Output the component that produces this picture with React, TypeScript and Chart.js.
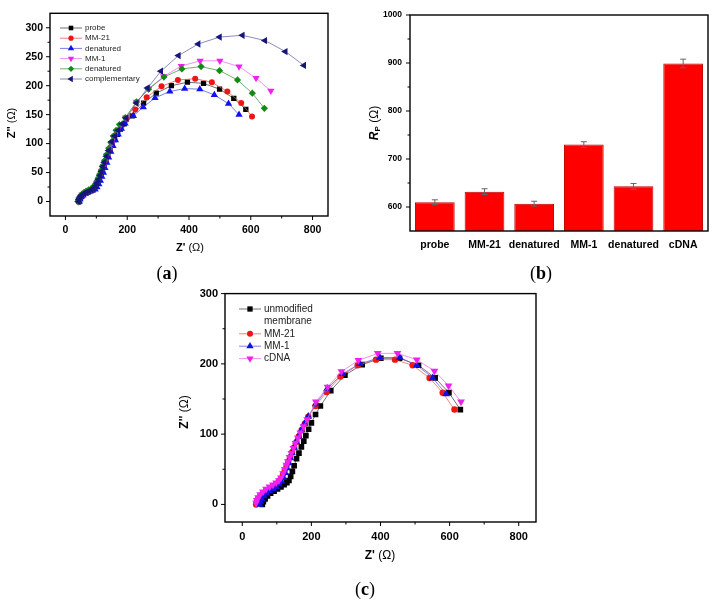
import { useEffect, useRef } from 'react';
import { Chart, registerables } from 'chart.js';
import { drawPoint } from 'chart.js/helpers';

Chart.register(...registerables);

const SANS = '"Liberation Sans", Arial, sans-serif';
const SERIF = '"Liberation Serif", "Times New Roman", serif';

type Pt = [number, number];

// ---- panel (a): Nyquist plots, Z' vs Z''
const aProbe: Pt[] = [[44,0],[46,4],[50,8],[56,11],[63,14],[71,16],[79,18],[87,20],[94,23],[100,27],[105,32],[110,38],[115,45],[120,52],[125,60],[131,69],[137,78],[144,88],[151,98],[159,107],[168,116],[178,125],[190,134],[216,148],[253,170],[294,187],[343,200],[395,206],[447,204],[499,194],[545,178],[584,159]];
const aMM21: Pt[] = [[43,0],[45,4],[49,8],[55,11],[62,14],[70,16],[78,18],[86,20],[93,23],[99,27],[104,32],[109,38],[114,45],[119,52],[124,60],[130,69],[136,78],[143,88],[150,98],[158,108],[167,118],[180,130],[197,141],[226,159],[263,180],[311,199],[364,210],[420,212],[474,206],[524,190],[569,170],[604,147]];
const aDenatured1: Pt[] = [[45,0],[47,4],[51,8],[57,11],[64,14],[72,16],[80,18],[88,19],[96,21],[102,25],[108,30],[113,36],[118,43],[123,50],[128,58],[134,67],[140,76],[147,86],[154,96],[162,106],[171,116],[181,126],[193,135],[220,148],[252,163],[290,179],[338,190],[386,195],[435,194],[482,184],[528,169],[562,150]];
const aMM1: Pt[] = [[42,0],[44,4],[48,8],[54,12],[61,15],[69,17],[77,19],[85,21],[92,24],[98,28],[103,33],[108,39],[113,46],[118,53],[123,61],[129,70],[135,80],[142,90],[149,100],[157,111],[166,121],[177,131],[195,145],[230,172],[270,195],[318,216],[375,234],[436,243],[500,243],[562,233],[617,213],[665,191]];
const aDenatured2: Pt[] = [[41,0],[43,4],[47,8],[52,12],[59,15],[67,18],[75,20],[83,22],[90,25],[96,29],[101,34],[106,40],[111,47],[116,54],[121,62],[127,71],[133,81],[140,92],[147,102],[155,113],[164,123],[175,133],[194,145],[230,172],[269,194],[319,215],[377,229],[439,233],[499,226],[557,210],[605,187],[644,161]];
const aComplementary: Pt[] = [[42,0],[44,4],[48,8],[53,11],[60,14],[68,16],[76,18],[84,20],[91,23],[97,27],[102,32],[107,38],[112,45],[117,52],[121,60],[126,68],[133,78],[140,88],[150,103],[160,113],[171,123],[184,134],[197,144],[230,170],[266,196],[309,225],[366,252],[430,272],[499,284],[573,287],[646,278],[712,259],[772,235]];
const aXTicks = [0, 200, 400, 600, 800];
const aYTicks = [0, 50, 100, 150, 200, 250, 300];

// ---- panel (b): charge transfer resistance
const bCategories = ['probe', 'MM-21', 'denatured', 'MM-1', 'denatured', 'cDNA'];
const rpValues = [610, 632, 607, 730, 643, 899];
const rpErrors = [5, 6, 5, 6, 6, 9];
const bYTicks = [600, 700, 800, 900, 1000];

// ---- panel (c): Nyquist plots on unmodified membrane
const cUnmodified: Pt[] = [[58,0],[61,4],[66,8],[73,12],[82,16],[92,19],[102,22],[112,25],[121,28],[129,31],[135,34],[140,40],[145,47],[150,55],[157,65],[164,73],[171,82],[178,90],[184,98],[192,107],[200,116],[212,128],[226,140],[256,162],[297,184],[347,199],[401,208],[455,208],[510,198],[558,180],[598,159],[631,135]];
const cMM21: Pt[] = [[40,0],[42,4],[46,8],[52,12],[60,16],[69,20],[79,23],[89,26],[98,29],[106,33],[112,37],[118,43],[123,49],[128,55],[133,61],[138,67],[144,74],[150,81],[157,89],[164,97],[172,106],[181,115],[191,125],[212,140],[244,160],[284,182],[334,198],[387,206],[442,206],[493,198],[542,180],[580,159],[614,135]];
const cMM1: Pt[] = [[50,0],[52,4],[56,8],[62,12],[70,16],[79,19],[89,22],[98,25],[106,29],[113,33],[119,38],[124,45],[129,52],[134,59],[139,66],[144,73],[150,81],[156,89],[163,97],[171,106],[180,115],[191,125],[213,143],[246,165],[290,186],[340,200],[398,209],[456,209],[505,198],[551,180],[590,157]];
const cDNA: Pt[] = [[40,2],[42,6],[46,10],[52,14],[60,18],[69,22],[79,25],[89,28],[98,31],[106,34],[112,38],[118,44],[123,50],[128,56],[132,61],[137,67],[142,73],[148,80],[154,87],[161,95],[168,102],[177,111],[188,121],[213,146],[247,167],[287,189],[336,205],[392,215],[449,215],[505,206],[556,190],[597,169],[633,146]];
const cXTicks = [0, 200, 400, 600, 800];
const cYTicks = [0, 100, 200, 300];

interface Series {
  legend: string[];
  data: Pt[];
  color: string;
  line: string;
  style: string;
  rot: number;
}

const aSeries: Series[] = [
  { legend: ['probe'], data: aProbe, color: '#000000', line: 'rgba(60,60,60,0.75)', style: 'rect', rot: 0 },
  { legend: ['MM-21'], data: aMM21, color: '#f01515', line: 'rgba(235,80,80,0.75)', style: 'circle', rot: 0 },
  { legend: ['denatured'], data: aDenatured1, color: '#1010f0', line: 'rgba(80,80,220,0.75)', style: 'triangle', rot: 0 },
  { legend: ['MM-1'], data: aMM1, color: '#f020f0', line: 'rgba(235,110,235,0.75)', style: 'triangle', rot: 180 },
  { legend: ['denatured'], data: aDenatured2, color: '#148a14', line: 'rgba(60,150,60,0.75)', style: 'rectRot', rot: 0 },
  { legend: ['complementary'], data: aComplementary, color: '#15157a', line: 'rgba(100,100,170,0.75)', style: 'triangle', rot: 270 },
];

const cSeries: Series[] = [
  { legend: ['unmodified', 'membrane'], data: cUnmodified, color: '#000000', line: 'rgba(70,70,70,0.75)', style: 'rect', rot: 0 },
  { legend: ['MM-21'], data: cMM21, color: '#f01515', line: 'rgba(235,90,90,0.75)', style: 'circle', rot: 0 },
  { legend: ['MM-1'], data: cMM1, color: '#1010e0', line: 'rgba(100,90,220,0.75)', style: 'triangle', rot: 0 },
  { legend: ['cDNA'], data: cDNA, color: '#f020f0', line: 'rgba(235,110,235,0.75)', style: 'triangle', rot: 180 },
];

// marker radius per style so the shapes look equally big
function markerRadius(style: string, r: number) {
  if (style === 'rect') return r * 1.25;
  if (style === 'triangle') return r * 1.4;
  if (style === 'rectRot') return r * 1.2;
  return r;
}

interface TextPart { text: string; font: string; dy?: number }

function drawParts(ctx: CanvasRenderingContext2D, x: number, y: number, parts: TextPart[], rotate: boolean) {
  ctx.save();
  ctx.translate(x, y);
  if (rotate) ctx.rotate(-Math.PI / 2);
  let total = 0;
  parts.forEach(p => { ctx.font = p.font; total += ctx.measureText(p.text).width; });
  let cx = -total / 2;
  ctx.fillStyle = '#000';
  ctx.textBaseline = 'middle';
  ctx.textAlign = 'left';
  parts.forEach(p => {
    ctx.font = p.font;
    ctx.fillText(p.text, cx, p.dy || 0);
    cx += ctx.measureText(p.text).width;
  });
  ctx.restore();
}

interface DecorOpts {
  xTicks: number[] | null;
  yTicks: number[];
  xTitle?: { x: number; y: number; parts: TextPart[] };
  yTitle: { x: number; y: number; parts: TextPart[] };
  legend?: { series: Series[]; x: number; y: number; rowH: number; lineLen: number; font: string; r: number };
  errors?: boolean;
}

function decorPlugin(o: DecorOpts) {
  return {
    id: 'decor',
    afterDatasetsDraw(chart: any) {
      if (!o.errors) return;
      const ctx: CanvasRenderingContext2D = chart.ctx;
      const ys = chart.scales.y;
      const meta = chart.getDatasetMeta(0);
      ctx.save();
      ctx.strokeStyle = '#666';
      ctx.lineWidth = 1;
      meta.data.forEach((bar: any, i: number) => {
        const top = ys.getPixelForValue(rpValues[i] + rpErrors[i]);
        const bot = ys.getPixelForValue(rpValues[i] - rpErrors[i]);
        ctx.beginPath();
        ctx.moveTo(bar.x, top); ctx.lineTo(bar.x, bot);
        ctx.moveTo(bar.x - 3, top); ctx.lineTo(bar.x + 3, top);
        ctx.moveTo(bar.x - 3, bot); ctx.lineTo(bar.x + 3, bot);
        ctx.stroke();
      });
      ctx.restore();
    },
    afterDraw(chart: any) {
      const ctx: CanvasRenderingContext2D = chart.ctx;
      const a = chart.chartArea;
      const xs = chart.scales.x;
      const ys = chart.scales.y;
      ctx.save();
      ctx.strokeStyle = '#000';
      ctx.lineWidth = 1.4;
      ctx.strokeRect(a.left, a.top, a.right - a.left, a.bottom - a.top);
      ctx.lineWidth = 1;
      const seg = (x1: number, y1: number, x2: number, y2: number) => {
        ctx.beginPath(); ctx.moveTo(x1, y1); ctx.lineTo(x2, y2); ctx.stroke();
      };
      o.yTicks.forEach((v, i) => {
        const py = ys.getPixelForValue(v);
        seg(a.left - 4, py, a.left, py);
        if (i < o.yTicks.length - 1) {
          const pm = ys.getPixelForValue((v + o.yTicks[i + 1]) / 2);
          seg(a.left - 2.5, pm, a.left, pm);
        }
      });
      if (o.xTicks) {
        const xt = o.xTicks;
        xt.forEach((v, i) => {
          const px = xs.getPixelForValue(v);
          seg(px, a.bottom, px, a.bottom + 4);
          if (i < xt.length - 1) {
            const pm = xs.getPixelForValue((v + xt[i + 1]) / 2);
            seg(pm, a.bottom, pm, a.bottom + 2.5);
          }
        });
      }
      ctx.restore();
      drawParts(ctx, o.yTitle.x, o.yTitle.y, o.yTitle.parts, true);
      if (o.xTitle) drawParts(ctx, o.xTitle.x, o.xTitle.y, o.xTitle.parts, false);
      if (o.legend) {
        const L = o.legend;
        ctx.save();
        let row = 0;
        L.series.forEach(s => {
          const cy = L.y + row * L.rowH;
          ctx.strokeStyle = s.line;
          ctx.lineWidth = 1;
          ctx.beginPath(); ctx.moveTo(L.x, cy); ctx.lineTo(L.x + L.lineLen, cy); ctx.stroke();
          ctx.fillStyle = s.color;
          drawPoint(ctx, { pointStyle: s.style as any, radius: markerRadius(s.style, L.r), rotation: s.rot, borderWidth: 0 } as any, L.x + L.lineLen / 2, cy);
          ctx.fillStyle = '#222';
          ctx.font = L.font;
          ctx.textBaseline = 'middle';
          ctx.textAlign = 'left';
          s.legend.forEach((t, k) => ctx.fillText(t, L.x + L.lineLen + 3, cy + k * L.rowH));
          row += s.legend.length;
        });
        ctx.restore();
      }
    },
  };
}

function nyquistConfig(series: Series[], r: number, xMin: number, xMax: number, yMin: number, yMax: number,
  xTicks: number[], yTicks: number[], pad: any, yW: number, xH: number, tickSize: number, decor: DecorOpts): any {
  const tickFont = { family: SANS, size: tickSize, weight: 'bold' as const };
  return {
    type: 'scatter',
    data: {
      datasets: series.map((s, i) => ({
        label: s.legend.join(' '),
        data: s.data.map(([x, y]) => ({ x, y })),
        order: series.length - i, // later series drawn on top, as in the original
        showLine: true,
        borderColor: s.line,
        borderWidth: 1,
        backgroundColor: s.color,
        pointBackgroundColor: s.color,
        pointBorderColor: s.color,
        pointBorderWidth: 0,
        pointStyle: s.style,
        pointRotation: s.rot,
        pointRadius: markerRadius(s.style, r),
        tension: 0,
      })),
    },
    options: {
      responsive: false,
      animation: false,
      layout: { padding: pad },
      plugins: { legend: { display: false }, tooltip: { enabled: false } },
      scales: {
        x: {
          type: 'linear', min: xMin, max: xMax,
          afterBuildTicks: (s: any) => { s.ticks = xTicks.map(v => ({ value: v })); },
          afterFit: (s: any) => { s.height = xH; },
          grid: { display: false, drawTicks: false },
          border: { display: false },
          ticks: { font: tickFont, color: '#000', padding: 8, callback: (v: any) => String(v), maxRotation: 0 },
        },
        y: {
          type: 'linear', min: yMin, max: yMax,
          afterBuildTicks: (s: any) => { s.ticks = yTicks.map(v => ({ value: v })); },
          afterFit: (s: any) => { s.width = yW; },
          grid: { display: false, drawTicks: false },
          border: { display: false },
          ticks: { font: tickFont, color: '#000', padding: 7, callback: (v: any) => String(v) },
        },
      },
    },
    plugins: [decorPlugin(decor)],
  };
}

function barConfig(): any {
  return {
    type: 'bar',
    data: {
      labels: bCategories,
      datasets: [{
        data: rpValues,
        backgroundColor: '#ff0000',
        borderColor: '#c00000',
        borderWidth: 1,
        barPercentage: 0.8,
        categoryPercentage: 1,
      }],
    },
    options: {
      responsive: false,
      animation: false,
      layout: { padding: { top: 15, right: 8, left: 0, bottom: 0 } },
      plugins: { legend: { display: false }, tooltip: { enabled: false } },
      scales: {
        x: {
          afterFit: (s: any) => { s.height = 31; },
          grid: { display: false, drawTicks: false },
          border: { display: false },
          ticks: { font: { family: SANS, size: 10.5, weight: 'bold' }, color: '#000', padding: 8, maxRotation: 0, autoSkip: false },
        },
        y: {
          min: 550, max: 1000,
          afterBuildTicks: (s: any) => { s.ticks = bYTicks.map(v => ({ value: v })); },
          afterFit: (s: any) => { s.width = 50; },
          grid: { display: false, drawTicks: false },
          border: { display: false },
          ticks: { font: { family: SANS, size: 8.5, weight: 'bold' }, color: '#000', padding: 8, callback: (v: any) => String(v) },
        },
      },
    },
    plugins: [decorPlugin({
      xTicks: null,
      yTicks: bYTicks,
      errors: true,
      yTitle: {
        x: 15, y: 123, parts: [
          { text: 'R', font: `italic bold 12px ${SANS}` },
          { text: 'P', font: `bold 8px ${SANS}`, dy: 3 },
          { text: ' (\u03A9)', font: `12px ${SANS}` },
        ],
      },
    })],
  };
}

function ChartBox({ make, left, top, width, height }: { make: () => any; left: number; top: number; width: number; height: number }) {
  const ref = useRef<HTMLCanvasElement>(null);
  useEffect(() => {
    if (!ref.current) return;
    const chart = new Chart(ref.current, make());
    return () => chart.destroy();
  }, []);
  return (
    <canvas ref={ref} width={width} height={height}
      style={{ position: 'absolute', left, top, width, height }} />
  );
}

function PanelLabel({ letter, x, y }: { letter: string; x: number; y: number }) {
  return (
    <div style={{ position: 'absolute', left: x, top: y, transform: 'translate(-50%,-50%)', fontFamily: SERIF, fontSize: 18, color: '#000', whiteSpace: 'nowrap' }}>
      (<b>{letter}</b>)
    </div>
  );
}

const zTitleA: TextPart[] = [{ text: "Z'' ", font: `bold 11px ${SANS}` }, { text: '(\u03A9)', font: `11px ${SANS}` }];
const zxTitleA: TextPart[] = [{ text: "Z' ", font: `bold 11px ${SANS}` }, { text: '(\u03A9)', font: `11px ${SANS}` }];
const zTitleC: TextPart[] = [{ text: "Z'' ", font: `bold 12px ${SANS}` }, { text: '(\u03A9)', font: `12px ${SANS}` }];
const zxTitleC: TextPart[] = [{ text: "Z' ", font: `bold 12px ${SANS}` }, { text: '(\u03A9)', font: `12px ${SANS}` }];

export default function App() {
  const makeA = () => nyquistConfig(aSeries, 3, -50, 850, -25, 325, aXTicks, aYTicks,
    { top: 13, right: 17, left: 0, bottom: 0 }, 50, 46, 10.5, {
      xTicks: aXTicks, yTicks: aYTicks,
      yTitle: { x: 12, y: 123, parts: zTitleA },
      xTitle: { x: 190, y: 248, parts: zxTitleA },
      legend: { series: aSeries, x: 60, y: 28, rowH: 10.2, lineLen: 22, font: `8px ${SANS}`, r: 2.6 },
    });
  const makeC = () => nyquistConfig(cSeries, 3.2, -50, 850, -25, 300, cXTicks, cYTicks,
    { top: 13, right: 14, left: 0, bottom: 0 }, 50, 58, 11, {
      xTicks: cXTicks, yTicks: cYTicks,
      yTitle: { x: 10, y: 132, parts: zTitleC },
      xTitle: { x: 205, y: 276, parts: zxTitleC },
      legend: { series: cSeries, x: 64, y: 29, rowH: 12.4, lineLen: 22, font: `10px ${SANS}`, r: 3 },
    });
  return (
    <div style={{ position: 'fixed', left: 0, top: 0, width: 716, height: 605, background: '#fff', overflow: 'hidden' }}>
      <ChartBox make={makeA} left={0} top={0} width={345} height={262} />
      <ChartBox make={barConfig} left={360} top={0} width={356} height={262} />
      <ChartBox make={makeC} left={175} top={280} width={375} height={300} />
      <PanelLabel letter="a" x={167} y={273} />
      <PanelLabel letter="b" x={541} y={273} />
      <PanelLabel letter="c" x={365} y={589} />
    </div>
  );
}
